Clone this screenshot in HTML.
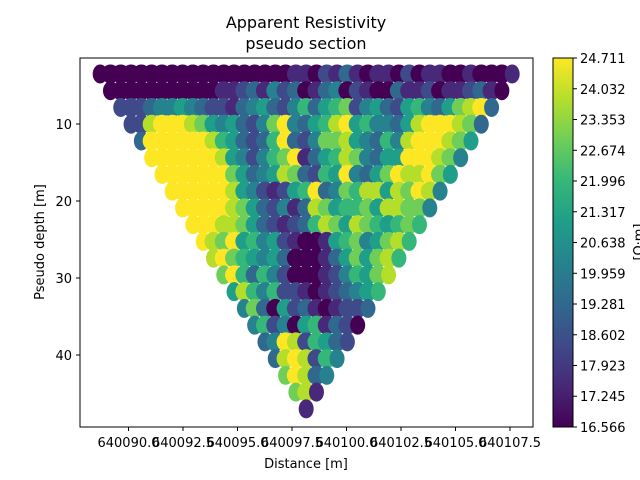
<!DOCTYPE html>
<html><head><meta charset="utf-8"><style>
body{margin:0;background:#fff}
svg{display:block;font-family:"DejaVu Sans","Liberation Sans",sans-serif}
</style></head><body>
<svg id="chart" width="640" height="480" viewBox="0 0 640 480">
<defs>
<linearGradient id="vir" x1="0" y1="1" x2="0" y2="0">
<stop offset="0" stop-color="#440154"/><stop offset="0.111" stop-color="#482878"/><stop offset="0.222" stop-color="#3e4a89"/><stop offset="0.333" stop-color="#31688e"/><stop offset="0.444" stop-color="#26828e"/><stop offset="0.556" stop-color="#1f9e89"/><stop offset="0.667" stop-color="#35b779"/><stop offset="0.778" stop-color="#6ece58"/><stop offset="0.889" stop-color="#b5de2b"/><stop offset="1" stop-color="#fde725"/>
</linearGradient>
<clipPath id="ax"><rect x="80" y="58" width="453" height="369"/></clipPath>
</defs>
<text x="306" y="28" font-size="16" text-anchor="middle">Apparent Resistivity</text>
<text x="306" y="49" font-size="16" text-anchor="middle">pseudo section</text>
<g id="points" clip-path="url(#ax)"></g>
<rect x="80" y="58" width="453" height="369" fill="none" stroke="#000" stroke-width="1"/>
<g id="xaxis"></g>
<g id="yaxis"></g>
<text x="306" y="468" font-size="13" text-anchor="middle">Distance [m]</text>
<text transform="translate(44,242) rotate(-90)" font-size="13" text-anchor="middle">Pseudo depth [m]</text>
<rect x="553" y="58" width="20" height="369" fill="url(#vir)" stroke="#000" stroke-width="1"/>
<g id="cbar"></g>
<text transform="translate(643,242) rotate(-90)" font-size="13" text-anchor="middle">[Ω·m]</text>
</svg>
<script>
const xTicks = [640090.0, 640092.5, 640095.0, 640097.5, 640100.0, 640102.5, 640105.0, 640107.5];
const yTicks = [10, 20, 30, 40];
const cbarTicks = [16.566, 17.245, 17.923, 18.602, 19.281, 19.959, 20.638, 21.317, 21.996, 22.674, 23.353, 24.032, 24.711];
const vmin = 16.566, vmax = 24.711;
const firstX = 640088.7, lastX = 640107.6;
const topDepth = 3.5, apexDepth = 47.0;
// resistivity levels (0..9 of the colour range) per pseudo-depth row
const rhoLevels = [
"00000000000000000001102131011020110010001",
"000000000001123142301340210031120112310",
"2223445432213453246356724532564357893",
"22899987545324794356895644358999873",
"399999986532369324778543648999875",
"9999999854246791356874355999874",
"99999997534587326594357988975",
"999999854212569347688587984",
"9999987532413875667588774",
"99988753212368758765676",
"987956452100156745786",
"8976545300013575786",
"79636420001246578",
"586462210123456",
"4730523101223",
"46240561320",
"349826532",
"3898264",
"79834",
"781",
"1"];
const colors = ["#440154","#482878","#3e4a89","#31688e","#26828e","#1f9e89","#35b779","#6ece58","#b5de2b","#fde725"];
const NS = "http://www.w3.org/2000/svg";
const xS = v => 128.5 + (v - 640090) * 21.8;
const yS = d => 124 + (d - 10) * 7.7;
const cS = v => 427 - (v - vmin) / (vmax - vmin) * 369;
function el(t, a, p){const e=document.createElementNS(NS,t);for(const k in a)e.setAttribute(k,a[k]);p.appendChild(e);return e;}
const pts = document.getElementById('points');
const nCols = rhoLevels[0].length;
const dx = (lastX - firstX) / (nCols - 1);
const dd = (apexDepth - topDepth) / (rhoLevels.length - 1);
rhoLevels.forEach((row, r) => {
  for (let i = 0; i < row.length; i++) {
    const lvl = +row[i];
    const val = vmin + lvl * (vmax - vmin) / 9;
    const edge = (i === 0 || i === row.length - 1);
    const c = el('ellipse', {cx: xS(firstX + (r + i) * dx), cy: yS(topDepth + r * dd), rx: edge ? 7.5 : 9, ry: 9.5,
      fill: colors[Math.round((val - vmin) / (vmax - vmin) * 9)]}, pts);
    
    
  }
});
const xa = document.getElementById('xaxis');
xTicks.forEach(v => {
  const x = xS(v);
  const l = el('line', {x1:x, x2:x, y1:427, y2:431, stroke:'#000'}, xa);
  
  
  const t = el('text', {x:x, y:447, 'font-size':13, 'text-anchor':'middle'}, xa);
  t.textContent = v.toFixed(1);
  
  
});
const ya = document.getElementById('yaxis');
yTicks.forEach(v => {
  const y = yS(v);
  const l = el('line', {x1:76, x2:80, y1:y, y2:y, stroke:'#000'}, ya);
  
  
  const t = el('text', {x:72, y:y+5, 'font-size':13, 'text-anchor':'end'}, ya);
  t.textContent = v;
  
  
});
const ca = document.getElementById('cbar');
cbarTicks.forEach(v => {
  const y = cS(v);
  const l = el('line', {x1:573, x2:577, y1:y, y2:y, stroke:'#000'}, ca);
  
  
  const t = el('text', {x:580, y:y+5, 'font-size':13}, ca);
  t.textContent = v.toFixed(3);
  
  
});
</script>
</body></html>
